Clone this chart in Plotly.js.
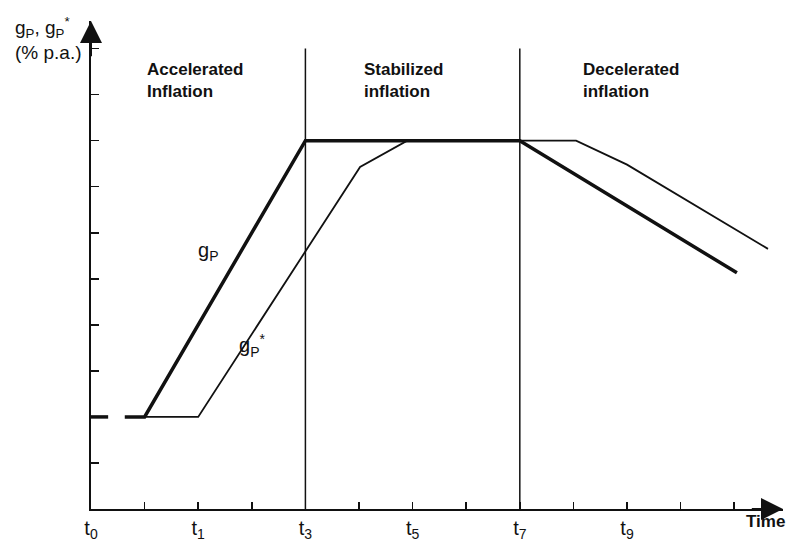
<!DOCTYPE html>
<html>
<head>
<meta charset="utf-8">
<script src="https://cdn.plot.ly/plotly-3.0.1.min.js"></script>
<style>html,body{margin:0;padding:0;background:#fff;}#chart{width:787px;height:541px;}</style>
</head>
<body>
<div id="chart"></div>
<script>
// Actual inflation g_P (thick); null gap gives the dashed start
const gP_x = [0, 0.32, null, 0.63, 1, 4, 8, 12.05];
const gP_y = [2, 2, null, 2, 2, 8, 8, 5.13];
// Expected inflation g_P* (thin)
const gPs_x = [1, 2, 5.02, 5.9, 9.05, 10, 12.63];
const gPs_y = [2, 2, 7.43, 8, 8, 7.48, 5.65];
// Phase boundaries (t3, t7)
const phaseX = [4, 8];
const phaseTop = 10;
// Phase labels
const phaseLabels = ["Accelerated<br>Inflation", "Stabilized<br>inflation", "Decelerated<br>inflation"];
const phaseLabelX = [1.0, 5.05, 9.15];
// X ticks
const xTickVals = [0,1,2,3,4,5,6,7,8,9,10,11,12];
const xTickText = ["t<sub>0</sub>","","t<sub>1</sub>","","t<sub>3</sub>","","t<sub>5</sub>","","t<sub>7</sub>","","t<sub>9</sub>","",""];
const yTickVals = [1,2,3,4,5,6,7,8,9,10];

const FONT = "Liberation Sans, Arial, Helvetica, sans-serif";

const traces = [
  {x: gP_x, y: gP_y, mode: "lines", line: {color: "#111", width: 3.5}, connectgaps: false, hoverinfo: "skip"},
  {x: gPs_x, y: gPs_y, mode: "lines", line: {color: "#111", width: 1.8}, hoverinfo: "skip"}
];

const shapes = phaseX.map(v => ({type: "line", xref: "x", yref: "y", x0: v, x1: v, y0: 0, y1: phaseTop, line: {color: "#111", width: 1.5}}));

const annotations = [];
phaseLabels.forEach((t, i) => annotations.push({
  x: phaseLabelX[i], y: 9.3, xref: "x", yref: "y", text: t, showarrow: false,
  xanchor: "left", yanchor: "middle", align: "left",
  font: {family: FONT, size: 17, color: "#111", weight: "bold"}
}));
// axis arrows
annotations.push({x: 12.91, y: 0, ax: 12.3, ay: 0, xref: "x", yref: "y", axref: "x", ayref: "y", text: "", showarrow: true, arrowhead: 2, arrowsize: 2.2, arrowwidth: 2, arrowcolor: "#111", standoff: 0});
annotations.push({x: 0, y: 10.6, ax: 0, ay: 9.8, xref: "x", yref: "y", axref: "x", ayref: "y", text: "", showarrow: true, arrowhead: 2, arrowsize: 2.2, arrowwidth: 2, arrowcolor: "#111", standoff: 0});
// line labels
annotations.push({x: 2.18, y: 5.6, xref: "x", yref: "y", text: "g<sub>P</sub>", showarrow: false, xanchor: "center", yanchor: "middle", font: {family: FONT, size: 20, color: "#111"}});
annotations.push({x: 3.0, y: 3.55, xref: "x", yref: "y", text: "g<sub>P</sub><sup>*</sup>", showarrow: false, xanchor: "center", yanchor: "middle", font: {family: FONT, size: 20, color: "#111"}});
// y axis title
annotations.push({x: -0.062, y: 1.018, xref: "paper", yref: "paper", text: "g<sub>P</sub>, g<sub>P</sub><sup>*</sup><br>(% p.a.)", showarrow: false, xanchor: "center", yanchor: "top", align: "left", font: {family: FONT, size: 19, color: "#111"}});
// x axis title
annotations.push({x: 0.974, y: -0.025, xref: "paper", yref: "paper", text: "Time", showarrow: false, xanchor: "center", yanchor: "middle", font: {family: FONT, size: 17, color: "#111", weight: "bold"}});

const layout = {
  width: 787, height: 541,
  margin: {l: 91, r: 4, t: 21, b: 32},
  paper_bgcolor: "#fff", plot_bgcolor: "#fff",
  showlegend: false,
  xaxis: {range: [0, 12.91], showline: true, linecolor: "#111", linewidth: 2, showgrid: false, zeroline: false,
    ticks: "inside", ticklen: 7, tickwidth: 1.5, tickcolor: "#111", tickvals: xTickVals, ticktext: xTickText,
    tickfont: {family: FONT, size: 20, color: "#111"}, automargin: false, fixedrange: true},
  yaxis: {range: [0, 10.6], showline: true, linecolor: "#111", linewidth: 2, showgrid: false, zeroline: false,
    ticks: "inside", ticklen: 8, tickwidth: 1.5, tickcolor: "#111", tickvals: yTickVals, showticklabels: false,
    automargin: false, fixedrange: true},
  shapes: shapes,
  annotations: annotations
};

Plotly.newPlot("chart", traces, layout, {displayModeBar: false, staticPlot: true});
</script>
</body>
</html>
